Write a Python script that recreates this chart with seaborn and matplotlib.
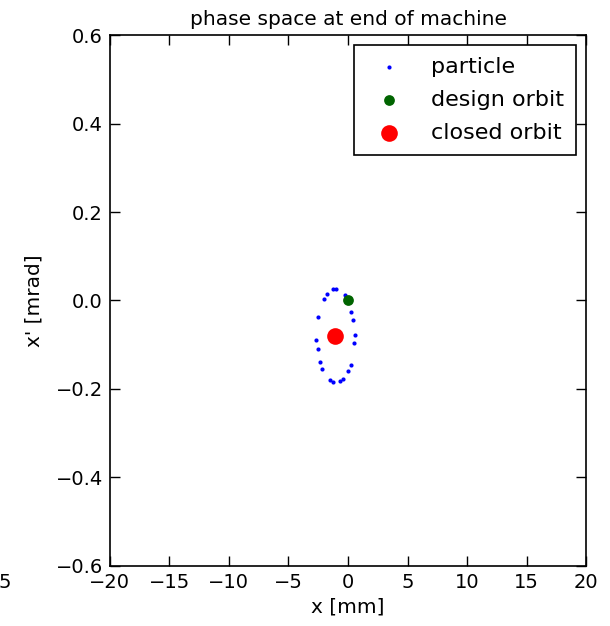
import matplotlib
matplotlib.use("Agg")
import matplotlib.pyplot as plt
import seaborn as sns
import pandas as pd

particle_x = [-1.28, -0.99, -1.75, -2.03, -0.27, 0.29, 0.44, -2.50, 0.57, 0.49,
              -2.65, -2.54, -2.34, -2.17, 0.21, 0.02, -1.50, -1.22, -0.71, -0.44]
particle_xp = [0.026, 0.026, 0.015, 0.003, 0.012, -0.026, -0.045, -0.037, -0.077, -0.096,
               -0.090, -0.110, -0.139, -0.155, -0.145, -0.159, -0.180, -0.185, -0.183, -0.177]
design_x = [0.0]
design_xp = [0.0]
closed_x = [-1.05]
closed_xp = [-0.080]
x_ticks = [-20, -15, -10, -5, 0, 5, 10, 15, 20]
y_ticks = [-0.6, -0.4, -0.2, 0.0, 0.2, 0.4, 0.6]

sns.set_style("ticks")
plt.rcParams['font.family'] = ['DejaVu Sans']
plt.rcParams['text.color'] = 'black'
plt.rcParams['axes.labelcolor'] = 'black'
plt.rcParams['xtick.color'] = 'black'
plt.rcParams['ytick.color'] = 'black'
plt.rcParams['xtick.direction'] = 'in'
plt.rcParams['ytick.direction'] = 'in'

fig = plt.figure(figsize=(6.1, 6.26), dpi=100)
ax = fig.add_axes([0.180, 0.096, 0.781, 0.848])

df_p = pd.DataFrame({"x": particle_x, "xp": particle_xp})
df_d = pd.DataFrame({"x": design_x, "xp": design_xp})
df_c = pd.DataFrame({"x": closed_x, "xp": closed_xp})

sns.scatterplot(data=df_p, x="x", y="xp", ax=ax, color="blue", s=9, linewidth=0, label="particle")
sns.scatterplot(data=df_d, x="x", y="xp", ax=ax, color="#006400", s=60, linewidth=0, label="design orbit")
sns.scatterplot(data=df_c, x="x", y="xp", ax=ax, color="red", s=144, linewidth=0, label="closed orbit")

ax.set_xlim(-20, 20)
ax.set_ylim(-0.6, 0.6)
ax.set_xticks(x_ticks)
ax.set_yticks(y_ticks)
ax.set_xticklabels([f"{t:d}".replace("-", "\u2212") for t in x_ticks], fontsize=14)
ax.set_yticklabels([f"{t:.1f}".replace("-", "\u2212") for t in y_ticks], fontsize=14)
ax.tick_params(axis="both", which="both", direction="in", top=True, right=True,
               length=7, width=1, pad=5, colors="black")
for sp in ax.spines.values():
    sp.set_visible(True)
    sp.set_linewidth(1.2)
    sp.set_color("black")

ax.set_xlabel("x [mm]", fontsize=14.5, labelpad=4)
ax.set_ylabel("x' [mrad]", fontsize=14.5, labelpad=9)
ax.set_title("phase space at end of machine", fontsize=14.5, pad=7)

leg = ax.legend(loc="upper right", fontsize=16, scatterpoints=1, fancybox=False,
                edgecolor="black", framealpha=1, borderpad=0.55, handlelength=2.0,
                handletextpad=0.9, labelspacing=0.57, borderaxespad=0.45)
leg.get_frame().set_linewidth(1.2)
for t in leg.get_texts():
    t.set_color("black")

fig.text(-0.002, 1 - 583 / 626, "5", fontsize=14, ha="left", va="center")

fig.savefig("out.png", dpi=100)
